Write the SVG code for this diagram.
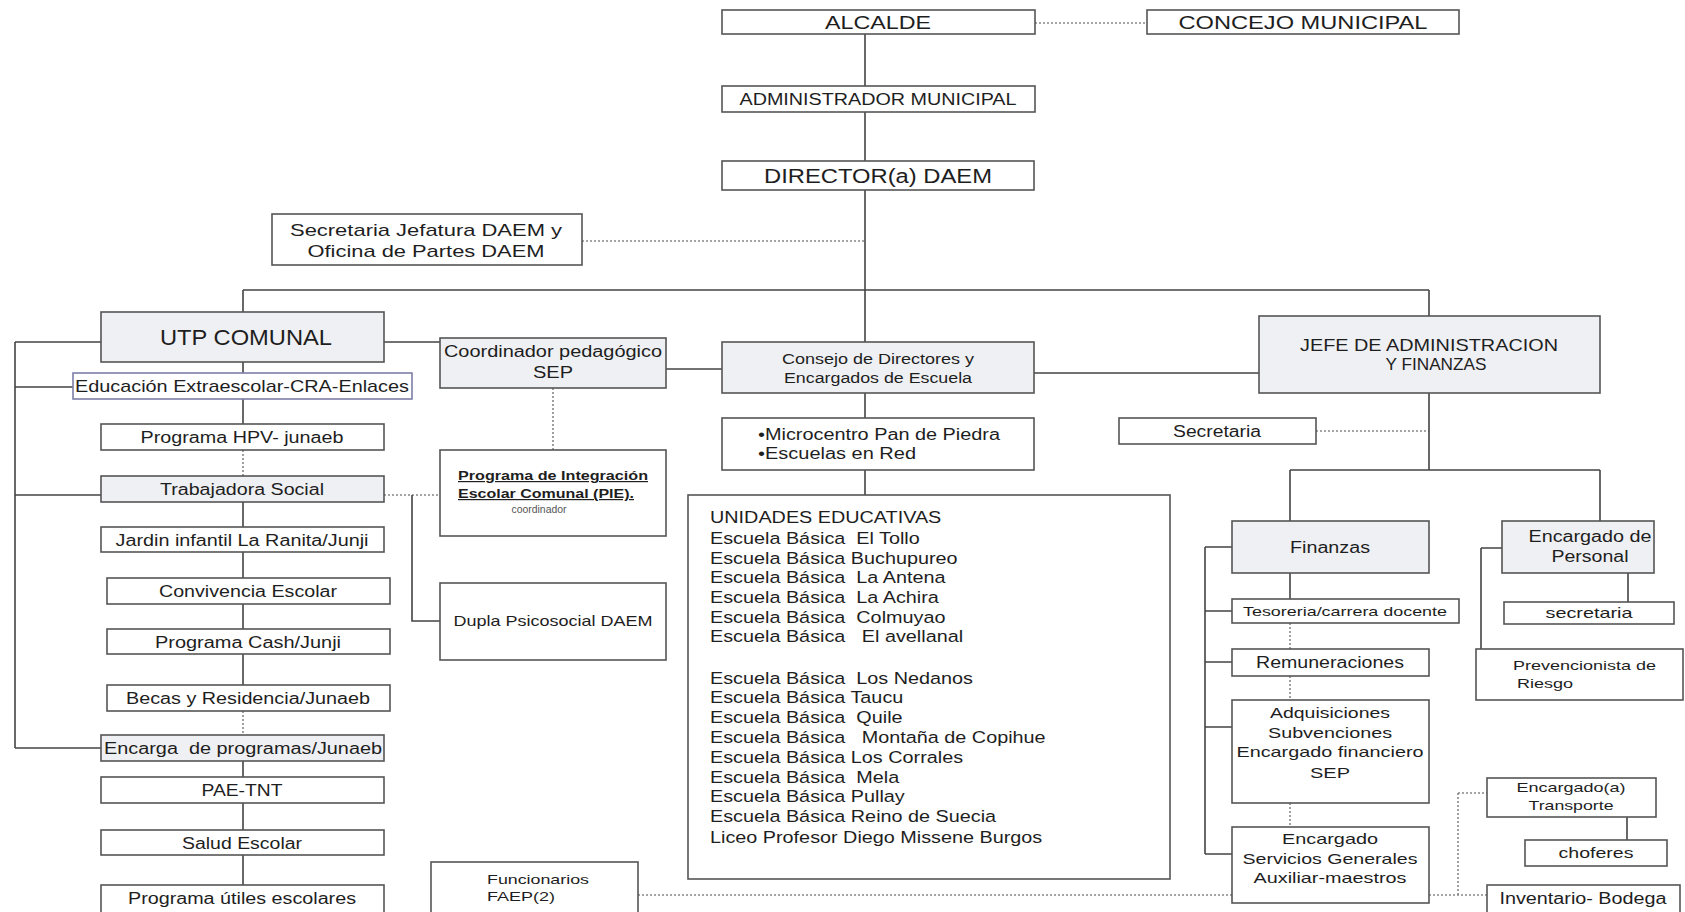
<svg xmlns="http://www.w3.org/2000/svg" width="1685" height="912" viewBox="0 0 1685 912">
<style>
.b{fill:#fff;stroke:#555;stroke-width:1.6}
.f{fill:#eff0f3;stroke:#555;stroke-width:1.6}
text{font-family:"Liberation Sans",Arial,sans-serif;fill:#1e1e1e;white-space:pre}
.t{text-anchor:middle}
.c{fill:none;stroke:#444;stroke-width:1.6}
.d{fill:none;stroke:#888;stroke-width:1.6;stroke-dasharray:2 2}
</style>
<rect width="1685" height="912" fill="#fff"/>
<g id="connectors">
<path class="d" d="M1035 23H1147M582 241H865M553 388V450M384 495H440M1316 431H1429M1290 623V649M1290 676V700M1290 803V827M1429 895H1487M1458 793V895M1458 793H1487M638 895H1232M243 450V476M243 711V735"/>
<path class="c" d="M865 34V86M865 112V161M865 190V342M865 393V418M865 470V495M243 290H1429M243 290V312M1429 290V316M384 342H440M666 369H722M1034 373H1259M243 362V373M243 399V424M243 502V527M243 552V578M243 604V629M243 654V685M243 761V777M243 803V830M243 855V885M15 342V748M15 342H101M15 387H73M15 495H101M15 748H101M412 495V621H440M1429 393V470M1290 470H1600M1290 470V521M1600 470V521M1290 573V599M1205 547V854M1205 547H1232M1205 611H1232M1205 662H1232M1205 727H1232M1205 854H1232M1628 573V602M1481 548V649M1481 548H1502M1627 817V840"/>
</g>
<g id="alcalde"><rect class="b" x="722" y="10" width="313" height="24"/><text class="t" x="878" y="29" font-size="19" textLength="106" lengthAdjust="spacingAndGlyphs">ALCALDE</text></g>
<g id="concejo"><rect class="b" x="1147" y="10" width="312" height="24"/><text class="t" x="1303" y="29" font-size="19" textLength="249" lengthAdjust="spacingAndGlyphs">CONCEJO MUNICIPAL</text></g>
<g id="administrador"><rect class="b" x="722" y="86" width="313" height="26"/><text class="t" x="878" y="105" font-size="16" textLength="277" lengthAdjust="spacingAndGlyphs">ADMINISTRADOR MUNICIPAL</text></g>
<g id="director"><rect class="b" x="722" y="161" width="312" height="29"/><text class="t" x="878" y="183" font-size="20" textLength="228" lengthAdjust="spacingAndGlyphs">DIRECTOR(a) DAEM</text></g>
<g id="secjefatura"><rect class="b" x="272" y="214" width="310" height="51"/><text class="t" x="426" y="236" font-size="17" textLength="272" lengthAdjust="spacingAndGlyphs">Secretaria Jefatura DAEM y</text><text class="t" x="426" y="257" font-size="17" textLength="237" lengthAdjust="spacingAndGlyphs">Oficina de Partes DAEM</text></g>
<g id="utp"><rect class="f" x="101" y="312" width="283" height="50"/><text class="t" x="246" y="345" font-size="22" textLength="172" lengthAdjust="spacingAndGlyphs">UTP COMUNAL</text></g>
<g id="coordinador"><rect class="f" x="440" y="338" width="226" height="50"/><text class="t" x="553" y="357" font-size="16" textLength="218" lengthAdjust="spacingAndGlyphs">Coordinador pedagógico</text><text class="t" x="553" y="378" font-size="16" textLength="40" lengthAdjust="spacingAndGlyphs">SEP</text></g>
<g id="consejo"><rect class="f" x="722" y="342" width="312" height="51"/><text class="t" x="878" y="364" font-size="14" textLength="192" lengthAdjust="spacingAndGlyphs">Consejo de Directores y</text><text class="t" x="878" y="383" font-size="14" textLength="188" lengthAdjust="spacingAndGlyphs">Encargados de Escuela</text></g>
<g id="jefe"><rect class="f" x="1259" y="316" width="341" height="77"/><text class="t" x="1429" y="351" font-size="17" textLength="258" lengthAdjust="spacingAndGlyphs">JEFE DE ADMINISTRACION</text><text class="t" x="1436" y="370" font-size="17" textLength="101" lengthAdjust="spacingAndGlyphs">Y FINANZAS</text></g>
<g id="microcentro"><rect class="b" x="722" y="418" width="312" height="52"/><text x="758" y="440" font-size="16" textLength="242" lengthAdjust="spacingAndGlyphs">•Microcentro Pan de Piedra</text><text x="758" y="459" font-size="16" textLength="158" lengthAdjust="spacingAndGlyphs">•Escuelas en Red</text></g>
<g id="unidades"><rect class="b" x="688" y="495" width="482" height="384"/>
<g transform="translate(710 0) scale(1.2 1)" font-size="16.5">
<text x="0" y="523">UNIDADES EDUCATIVAS</text>
<text x="0" y="544">Escuela Básica  El Tollo</text>
<text x="0" y="564">Escuela Básica Buchupureo</text>
<text x="0" y="583">Escuela Básica  La Antena</text>
<text x="0" y="603">Escuela Básica  La Achira</text>
<text x="0" y="623">Escuela Básica  Colmuyao</text>
<text x="0" y="642">Escuela Básica   El avellanal</text>
<text x="0" y="684">Escuela Básica  Los Nedanos</text>
<text x="0" y="703">Escuela Básica Taucu</text>
<text x="0" y="723">Escuela Básica  Quile</text>
<text x="0" y="743">Escuela Básica   Montaña de Copihue</text>
<text x="0" y="763">Escuela Básica Los Corrales</text>
<text x="0" y="783">Escuela Básica  Mela</text>
<text x="0" y="802">Escuela Básica Pullay</text>
<text x="0" y="822">Escuela Básica Reino de Suecia</text>
<text x="0" y="843">Liceo Profesor Diego Missene Burgos</text>
</g>
</g>
<g id="secretaria-adm"><rect class="b" x="1119" y="418" width="197" height="26"/><text class="t" x="1217" y="437" font-size="16" textLength="88" lengthAdjust="spacingAndGlyphs">Secretaria</text></g>
<g id="finanzas"><rect class="f" x="1232" y="521" width="197" height="52"/><text class="t" x="1330" y="553" font-size="16" textLength="80" lengthAdjust="spacingAndGlyphs">Finanzas</text></g>
<g id="encpersonal"><rect class="f" x="1502" y="521" width="152" height="52"/><text class="t" x="1590" y="542" font-size="16" textLength="123" lengthAdjust="spacingAndGlyphs">Encargado de</text><text class="t" x="1590" y="562" font-size="16" textLength="77" lengthAdjust="spacingAndGlyphs">Personal</text></g>
<g id="tesoreria"><rect class="b" x="1232" y="599" width="227" height="24"/><text class="t" x="1345" y="616" font-size="13" textLength="204" lengthAdjust="spacingAndGlyphs">Tesoreria/carrera docente</text></g>
<g id="secretaria-pers"><rect class="b" x="1504" y="602" width="170" height="22"/><text class="t" x="1589" y="618" font-size="15" textLength="87" lengthAdjust="spacingAndGlyphs">secretaria</text></g>
<g id="remuneraciones"><rect class="b" x="1232" y="649" width="197" height="27"/><text class="t" x="1330" y="668" font-size="16" textLength="148" lengthAdjust="spacingAndGlyphs">Remuneraciones</text></g>
<g id="prevencionista"><rect class="b" x="1476" y="649" width="207" height="51"/><text x="1513" y="670" font-size="13" textLength="143" lengthAdjust="spacingAndGlyphs">Prevencionista de</text><text x="1517" y="688" font-size="13" textLength="56" lengthAdjust="spacingAndGlyphs">Riesgo</text></g>
<g id="adquisiciones"><rect class="b" x="1232" y="700" width="197" height="103"/><text class="t" x="1330" y="718" font-size="15" textLength="120" lengthAdjust="spacingAndGlyphs">Adquisiciones</text><text class="t" x="1330" y="738" font-size="15" textLength="124" lengthAdjust="spacingAndGlyphs">Subvenciones</text><text class="t" x="1330" y="757" font-size="15" textLength="187" lengthAdjust="spacingAndGlyphs">Encargado financiero</text><text class="t" x="1330" y="778" font-size="15" textLength="40" lengthAdjust="spacingAndGlyphs">SEP</text></g>
<g id="servicios"><rect class="b" x="1232" y="827" width="197" height="76"/><text class="t" x="1330" y="844" font-size="15" textLength="96" lengthAdjust="spacingAndGlyphs">Encargado</text><text class="t" x="1330" y="864" font-size="15" textLength="175" lengthAdjust="spacingAndGlyphs">Servicios Generales</text><text class="t" x="1330" y="883" font-size="15" textLength="153" lengthAdjust="spacingAndGlyphs">Auxiliar-maestros</text></g>
<g id="transporte"><rect class="b" x="1487" y="778" width="169" height="39"/><text class="t" x="1571" y="792" font-size="13" textLength="109" lengthAdjust="spacingAndGlyphs">Encargado(a)</text><text class="t" x="1571" y="810" font-size="13" textLength="85" lengthAdjust="spacingAndGlyphs">Transporte</text></g>
<g id="choferes"><rect class="b" x="1525" y="840" width="142" height="26"/><text class="t" x="1596" y="858" font-size="15" textLength="75" lengthAdjust="spacingAndGlyphs">choferes</text></g>
<g id="inventario"><rect class="b" x="1487" y="885" width="193" height="30"/><text class="t" x="1583" y="904" font-size="16" textLength="167" lengthAdjust="spacingAndGlyphs">Inventario- Bodega</text></g>
<g id="funcionarios"><rect class="b" x="431" y="862" width="207" height="52"/><text x="487" y="884" font-size="13" textLength="102" lengthAdjust="spacingAndGlyphs">Funcionarios</text><text x="487" y="901" font-size="13" textLength="68" lengthAdjust="spacingAndGlyphs">FAEP(2)</text></g>
<g id="educacion"><rect class="b" x="73" y="373" width="339" height="26" style="stroke:#7d7fa8"/><text class="t" x="242" y="392" font-size="17" textLength="334" lengthAdjust="spacingAndGlyphs">Educación Extraescolar-CRA-Enlaces</text></g>
<g id="hpv"><rect class="b" x="101" y="424" width="283" height="26"/><text class="t" x="242" y="443" font-size="16" textLength="203" lengthAdjust="spacingAndGlyphs">Programa HPV- junaeb</text></g>
<g id="trabajadora"><rect class="f" x="101" y="476" width="283" height="26"/><text class="t" x="242" y="495" font-size="16" textLength="164" lengthAdjust="spacingAndGlyphs">Trabajadora Social</text></g>
<g id="jardin"><rect class="b" x="101" y="527" width="283" height="25"/><text class="t" x="242" y="546" font-size="16" textLength="253" lengthAdjust="spacingAndGlyphs">Jardin infantil La Ranita/Junji</text></g>
<g id="convivencia"><rect class="b" x="107" y="578" width="283" height="26"/><text class="t" x="248" y="597" font-size="16" textLength="178" lengthAdjust="spacingAndGlyphs">Convivencia Escolar</text></g>
<g id="cash"><rect class="b" x="107" y="629" width="283" height="25"/><text class="t" x="248" y="648" font-size="16" textLength="186" lengthAdjust="spacingAndGlyphs">Programa Cash/Junji</text></g>
<g id="becas"><rect class="b" x="107" y="685" width="283" height="26"/><text class="t" x="248" y="704" font-size="16" textLength="244" lengthAdjust="spacingAndGlyphs">Becas y Residencia/Junaeb</text></g>
<g id="encarga"><rect class="f" x="101" y="735" width="283" height="26"/><text class="t" x="243" y="754" font-size="16" textLength="278" lengthAdjust="spacingAndGlyphs">Encarga  de programas/Junaeb</text></g>
<g id="pae"><rect class="b" x="101" y="777" width="283" height="26"/><text class="t" x="242" y="796" font-size="16" textLength="81" lengthAdjust="spacingAndGlyphs">PAE-TNT</text></g>
<g id="salud"><rect class="b" x="101" y="830" width="283" height="25"/><text class="t" x="242" y="849" font-size="16" textLength="120" lengthAdjust="spacingAndGlyphs">Salud Escolar</text></g>
<g id="utiles"><rect class="b" x="101" y="885" width="283" height="30"/><text class="t" x="242" y="904" font-size="16" textLength="228" lengthAdjust="spacingAndGlyphs">Programa útiles escolares</text></g>
<g id="pie"><rect class="b" x="440" y="450" width="226" height="86"/><text x="458" y="480" font-size="12" font-weight="bold" text-decoration="underline" textLength="190" lengthAdjust="spacingAndGlyphs">Programa de Integración</text><text x="458" y="498" font-size="12" font-weight="bold" text-decoration="underline" textLength="176" lengthAdjust="spacingAndGlyphs">Escolar Comunal (PIE).</text><text class="t" x="539" y="513" font-size="10.5" style="fill:#555" textLength="55" lengthAdjust="spacingAndGlyphs">coordinador</text></g>
<g id="dupla"><rect class="b" x="440" y="583" width="226" height="77"/><text class="t" x="553" y="626" font-size="15" textLength="199" lengthAdjust="spacingAndGlyphs">Dupla Psicosocial DAEM</text></g>
</svg>
